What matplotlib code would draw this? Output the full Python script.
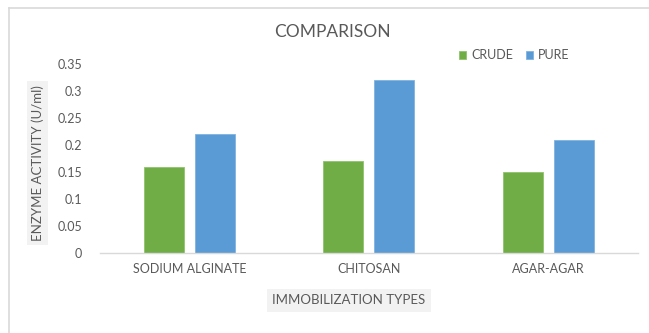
import numpy as np
import matplotlib.pyplot as plt
from matplotlib.lines import Line2D

# enzyme activity by immobilization matrix
types = ['SODIUM ALGINATE', 'CHITOSAN', 'AGAR-AGAR']
crude = [0.16, 0.17, 0.15]
pure = [0.22, 0.32, 0.21]
yticks = [0, 0.05, 0.1, 0.15, 0.2, 0.25, 0.3, 0.35]
ytick_labels = ['0', '0.05', '0.1', '0.15', '0.2', '0.25', '0.3', '0.35']

plt.rcParams['font.family'] = ['Lato', 'DejaVu Sans']
grey = '#595959'

fig = plt.figure(figsize=(6.49, 3.33), dpi=100)
ax = fig.add_axes([0.154, 0.240, 0.829, 0.567])

x = np.arange(len(types))
w = 0.223
off = 0.142
ax.bar(x - off, crude, w, color='#70AD47', edgecolor='#8fc46a', linewidth=0.6, label='CRUDE')
ax.bar(x + off, pure, w, color='#5B9BD5', edgecolor='#7fb3e3', linewidth=0.6, label='PURE')

ax.set_xlim(-0.5, 2.5)
ax.set_ylim(0, 0.35)
ax.set_xticks(x)
ax.set_xticklabels(types, fontsize=9, color=grey)
ax.set_yticks(yticks)
ax.set_yticklabels(ytick_labels, fontsize=9, color=grey)
ax.tick_params(axis='both', length=0)
ax.tick_params(axis='y', pad=13)
ax.tick_params(axis='x', pad=7)
for s in ['top', 'right', 'left']:
    ax.spines[s].set_visible(False)
ax.spines['bottom'].set_color('#d9d9d9')
ax.spines['bottom'].set_linewidth(1.0)

ax.set_ylabel('ENZYME ACTIVITY (U/ml)', fontsize=9.5, color=grey,
              bbox=dict(facecolor='#f2f2f2', edgecolor='none', pad=3))
ax.yaxis.set_label_coords(-0.104, 0.476)
ax.set_xlabel('IMMOBILIZATION TYPES', fontsize=9.5, color=grey,
              bbox=dict(facecolor='#f2f2f2', edgecolor='none', pad=4))
ax.xaxis.set_label_coords(0.463, -0.25)
ax.xaxis.label.set_va('center')

fig.text(0.513, 0.904, 'COMPARISON', ha='center', va='center', fontsize=12.5, color=grey)

ax.legend(loc='center', bbox_to_anchor=(0.77, 1.048), ncol=2, frameon=False,
          fontsize=9, labelcolor=grey, handlelength=0.6, handleheight=0.6,
          handletextpad=0.4, columnspacing=1.0)

# chart area border
fig.add_artist(Line2D([9 / 649, 1], [1 - 8 / 333] * 2, color='#d9d9d9', lw=1.2))
fig.add_artist(Line2D([9 / 649] * 2, [0, 1 - 8 / 333], color='#d9d9d9', lw=1.2))

fig.savefig('out.png', dpi=100)
